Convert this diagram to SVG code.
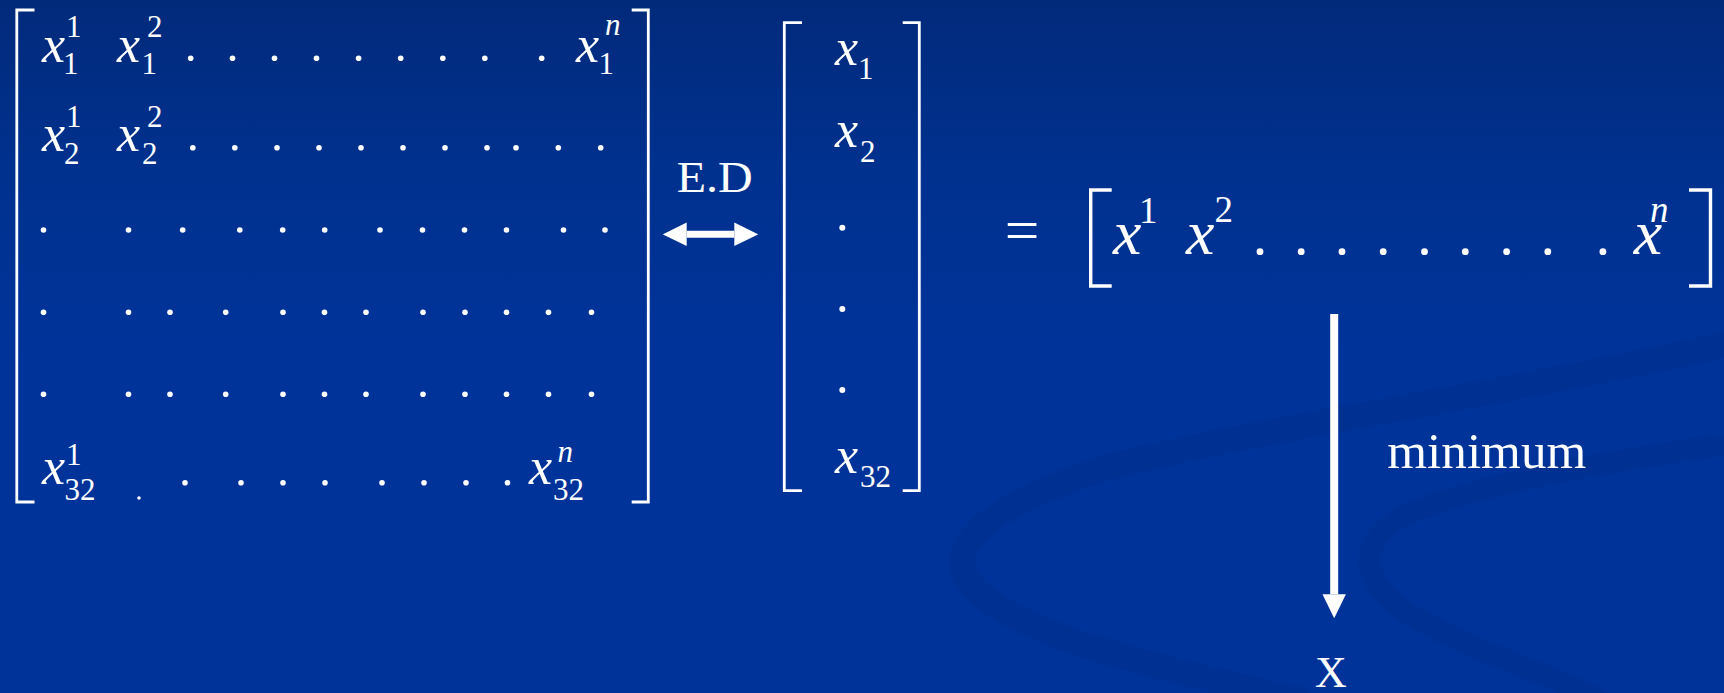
<svg xmlns="http://www.w3.org/2000/svg" width="1724" height="693" viewBox="0 0 1724 693">
<defs>
<linearGradient id="bg" x1="0" y1="0" x2="0" y2="1">
<stop offset="0" stop-color="#022a7b"/>
<stop offset="0.25" stop-color="#00318f"/>
<stop offset="0.5" stop-color="#003399"/>
<stop offset="1" stop-color="#003399"/>
</linearGradient>
<marker id="head" markerUnits="userSpaceOnUse" markerWidth="24" markerHeight="24" viewBox="0 0 24 24" refX="0" refY="12" orient="auto-start-reverse">
<path d="M0,0.3 L24,12 L0,23.7 z" fill="#ffffff"/>
</marker>
</defs>
<style>
.mi{font-family:"Liberation Serif","Times New Roman",serif;font-style:italic;fill:#ffffff}
.rm{font-family:"Liberation Serif","Times New Roman",serif;fill:#ffffff}
.big{font-size:52px}
.sm{font-size:31px}
.bigR{font-size:64px}
.smR{font-size:37px}
.br{fill:none;stroke:#ffffff;stroke-width:2.8}
.brR{fill:none;stroke:#ffffff;stroke-width:3.4}
.dot{fill:#ffffff}
.conn{stroke:#ffffff;fill:none}
.swoosh{fill:none;stroke:#002c86;stroke-opacity:0.3;stroke-linecap:round}
</style>
<rect x="0" y="0" width="1724" height="693" fill="url(#bg)"/>
<g id="background-swooshes">
<path class="swoosh" stroke-width="26" d="M1724,345 C1500,395 1250,430 1110,467 C1000,500 950,540 965,575 C990,625 1120,660 1300,700"/>
<path class="swoosh" stroke-width="22" d="M1724,445 C1600,462 1460,488 1400,518 C1350,550 1365,590 1420,620 C1470,650 1540,670 1600,700"/>
</g>

<g id="matrix-left">
<path class="br" d="M34.5,10 H16.8 V502 H34.5"/>
<path class="br" d="M631.7,10 H648.3 V502 H631.7"/>
<!-- row 1 -->
<text class="mi big" x="42" y="61.5">x</text>
<text class="rm sm" x="63" y="74">1</text>
<text class="rm sm" x="66" y="37">1</text>
<text class="mi big" x="117" y="61.5">x</text>
<text class="rm sm" x="141.5" y="74">1</text>
<text class="rm sm" x="147" y="37">2</text>
<g class="dot">
<circle cx="190.7" cy="58.3" r="2.8"/><circle cx="232.5" cy="58.3" r="2.8"/><circle cx="274.5" cy="58.3" r="2.8"/><circle cx="316.5" cy="58.3" r="2.8"/><circle cx="358.6" cy="58.3" r="2.8"/><circle cx="400.7" cy="58.3" r="2.8"/><circle cx="442.8" cy="58.3" r="2.8"/><circle cx="484.8" cy="58.3" r="2.8"/><circle cx="541.7" cy="58.3" r="2.8"/>
</g>
<text class="mi big" x="576" y="61.5">x</text>
<text class="rm sm" x="598.5" y="74">1</text>
<text class="mi sm" x="605" y="35">n</text>
<!-- row 2 -->
<text class="mi big" x="42" y="151">x</text>
<text class="rm sm" x="64" y="163.5">2</text>
<text class="rm sm" x="66" y="127">1</text>
<text class="mi big" x="117" y="151">x</text>
<text class="rm sm" x="142" y="163.5">2</text>
<text class="rm sm" x="147" y="127">2</text>
<g class="dot">
<circle cx="192.8" cy="147.7" r="2.8"/><circle cx="234.8" cy="147.7" r="2.8"/><circle cx="277" cy="147.7" r="2.8"/><circle cx="319" cy="147.7" r="2.8"/><circle cx="361" cy="147.7" r="2.8"/><circle cx="403" cy="147.7" r="2.8"/><circle cx="445" cy="147.7" r="2.8"/><circle cx="487" cy="147.7" r="2.8"/><circle cx="516" cy="147.7" r="2.8"/><circle cx="558.3" cy="147.7" r="2.8"/><circle cx="600.7" cy="147.7" r="2.8"/>
</g>
<!-- row 3 -->
<g class="dot">
<circle cx="43.5" cy="230" r="2.8"/><circle cx="128.5" cy="230" r="2.8"/><circle cx="182.7" cy="230" r="2.8"/><circle cx="239.8" cy="230" r="2.8"/><circle cx="282.7" cy="230" r="2.8"/><circle cx="324.7" cy="230" r="2.8"/><circle cx="380" cy="230" r="2.8"/><circle cx="422.5" cy="230" r="2.8"/><circle cx="464.5" cy="230" r="2.8"/><circle cx="506.5" cy="230" r="2.8"/><circle cx="563.5" cy="230" r="2.8"/><circle cx="605" cy="230" r="2.8"/>
</g>
<!-- row 4 -->
<g class="dot">
<circle cx="43.5" cy="312.3" r="2.8"/><circle cx="128.5" cy="312.3" r="2.8"/><circle cx="170" cy="312.3" r="2.8"/><circle cx="225.7" cy="312.3" r="2.8"/><circle cx="283" cy="312.3" r="2.8"/><circle cx="324.5" cy="312.3" r="2.8"/><circle cx="366" cy="312.3" r="2.8"/><circle cx="423" cy="312.3" r="2.8"/><circle cx="465" cy="312.3" r="2.8"/><circle cx="506.5" cy="312.3" r="2.8"/><circle cx="548.5" cy="312.3" r="2.8"/><circle cx="591.5" cy="312.3" r="2.8"/>
</g>
<!-- row 5 -->
<g class="dot">
<circle cx="43.5" cy="394.3" r="2.8"/><circle cx="128.5" cy="394.3" r="2.8"/><circle cx="170" cy="394.3" r="2.8"/><circle cx="225.7" cy="394.3" r="2.8"/><circle cx="283" cy="394.3" r="2.8"/><circle cx="324.5" cy="394.3" r="2.8"/><circle cx="366" cy="394.3" r="2.8"/><circle cx="423" cy="394.3" r="2.8"/><circle cx="465" cy="394.3" r="2.8"/><circle cx="506.5" cy="394.3" r="2.8"/><circle cx="548.5" cy="394.3" r="2.8"/><circle cx="591.5" cy="394.3" r="2.8"/>
</g>
<!-- row 6 -->
<text class="mi big" x="42" y="484">x</text>
<text class="rm sm" x="64.5" y="500">32</text>
<text class="rm sm" x="66" y="465">1</text>
<g class="dot">
<circle cx="139" cy="498" r="1.8"/><circle cx="185" cy="482.7" r="2.8"/><circle cx="241" cy="482.7" r="2.8"/><circle cx="283" cy="482.7" r="2.8"/><circle cx="325" cy="482.7" r="2.8"/><circle cx="382" cy="482.7" r="2.8"/><circle cx="424" cy="482.7" r="2.8"/><circle cx="466" cy="482.7" r="2.8"/><circle cx="507.5" cy="482.7" r="2.8"/>
</g>
<text class="mi big" x="529" y="484">x</text>
<text class="rm sm" x="553" y="500">32</text>
<text class="mi sm" x="557.5" y="462">n</text>
</g>

<g id="column-vector">
<path class="br" d="M802,22.7 H784.3 V490.7 H802"/>
<path class="br" d="M902.7,22.7 H919.3 V490.7 H902.7"/>
<text class="mi big" x="835" y="65">x</text>
<text class="rm sm" x="858" y="79">1</text>
<text class="mi big" x="835" y="146.7">x</text>
<text class="rm sm" x="860" y="161.7">2</text>
<g class="dot">
<circle cx="842.3" cy="227.7" r="3"/><circle cx="842.3" cy="309" r="3"/><circle cx="842.3" cy="390" r="3"/>
</g>
<text class="mi big" x="835" y="473">x</text>
<text class="rm sm" x="860" y="487">32</text>
</g>

<g id="label-ed">
<text class="rm" x="676.7" y="191.7" font-size="44" textLength="76" lengthAdjust="spacingAndGlyphs">E.D</text>
</g>

<g id="result-vector">
<text class="rm" x="1004.7" y="250" font-size="60" textLength="34.6" lengthAdjust="spacingAndGlyphs">=</text>
<path class="brR" d="M1111.7,190 H1090.7 V286 H1111.7"/>
<path class="brR" d="M1689,190 H1710.5 V286 H1689"/>
<text class="mi bigR" x="1113" y="254">x</text>
<text class="rm smR" x="1139" y="223">1</text>
<text class="mi bigR" x="1186" y="254">x</text>
<text class="rm smR" x="1214.5" y="222">2</text>
<g class="dot">
<circle cx="1260" cy="251.7" r="3.4"/><circle cx="1301.2" cy="251.7" r="3.4"/><circle cx="1342" cy="251.7" r="3.4"/><circle cx="1383.2" cy="251.7" r="3.4"/><circle cx="1424.5" cy="251.7" r="3.4"/><circle cx="1465.3" cy="251.7" r="3.4"/><circle cx="1506.6" cy="251.7" r="3.4"/><circle cx="1547.8" cy="251.7" r="3.4"/><circle cx="1602.9" cy="251.7" r="3.4"/>
</g>
<text class="mi bigR" x="1633.7" y="254">x</text>
<text class="mi smR" x="1650" y="222">n</text>
</g>

<g id="label-minimum">
<text class="rm" x="1387.3" y="468.3" font-size="50" textLength="199" lengthAdjust="spacingAndGlyphs">minimum</text>
</g>

<g id="node-X">
<text class="rm" x="1331" y="686.5" font-size="44" text-anchor="middle">X</text>
</g>

<g id="connectors">
<line class="conn" x1="686.7" y1="234.3" x2="734.3" y2="234.3" stroke-width="7" marker-start="url(#head)" marker-end="url(#head)"/>
<line class="conn" x1="1334.2" y1="314" x2="1334.2" y2="594.3" stroke-width="8" marker-end="url(#head)"/>
</g>
</svg>
